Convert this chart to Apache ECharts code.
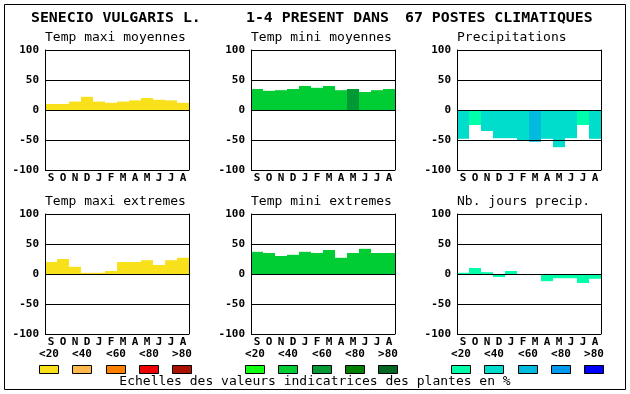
<!DOCTYPE html>
<html><head><meta charset="utf-8">
<script src="https://cdn.jsdelivr.net/npm/echarts@6/dist/echarts.min.js"></script>
<style>html,body{margin:0;padding:0;background:#fff}#c{width:630px;height:394px}</style>
</head><body><div id="c"></div>
<script>
// ---- data ----
const months = ['S','O','N','D','J','F','M','A','M','J','J','A'];
const yTicks = [-100, -50, 0, 50, 100];
const tempMaxiMoy = [10,10,14,22,14,12,14,16,20,17,16,12];
const tempMaxiMoyClass = [0,0,0,0,0,0,0,0,0,0,0,0];
const tempMiniMoy = [35,32,33,35,40,37,40,33,35,30,33,35];
const tempMiniMoyClass = [1,1,1,1,1,1,1,1,2,1,1,1];
const precip = [-48,-25,-35,-47,-47,-50,-53,-48,-62,-47,-25,-48];
const precipClass = [1,0,1,1,1,1,2,1,1,1,0,1];
const tempMaxiExt = [20,25,12,2,2,5,20,20,23,15,23,27];
const tempMaxiExtClass = [0,0,0,0,0,0,0,0,0,0,0,0];
const tempMiniExt = [37,35,30,32,37,35,40,27,35,42,35,35];
const tempMiniExtClass = [1,1,1,1,1,1,1,1,1,1,1,1];
const nbJours = [2,10,3,-5,5,0,0,-12,-7,-7,-15,-8];
const nbJoursClass = [0,0,0,0,0,0,0,0,0,0,0,0];
const scaleLabels = ['<20','<40','<60','<80','>80'];
const yellowScale = ['#F8E01A','#FFB84D','#FF7F00','#EE0000','#AA1100'];
const greenScale = ['#11FF11','#00CC33','#009933','#007F00','#006622'];
const blueScale = ['#00FFAA','#00DDCC','#00BBDD','#0099EE','#0000FF'];
const titleParts = ['SENECIO VULGARIS L.', '1-4 PRESENT DANS', '67 POSTES CLIMATIQUES'];
const caption = 'Echelles des valeurs indicatrices des plantes en %';

const panels = [
  {name:'Temp maxi moyennes', values:tempMaxiMoy, cls:tempMaxiMoyClass, pal:yellowScale, left:45, top:50},
  {name:'Temp mini moyennes', values:tempMiniMoy, cls:tempMiniMoyClass, pal:greenScale, left:251, top:50},
  {name:'Precipitations', values:precip, cls:precipClass, pal:blueScale, left:457, top:50},
  {name:'Temp maxi extremes', values:tempMaxiExt, cls:tempMaxiExtClass, pal:yellowScale, left:45, top:214},
  {name:'Temp mini extremes', values:tempMiniExt, cls:tempMiniExtClass, pal:greenScale, left:251, top:214},
  {name:'Nb. jours precip.', values:nbJours, cls:nbJoursClass, pal:blueScale, left:457, top:214}
];

const MONO = "'DejaVu Sans Mono', 'Liberation Mono', monospace";
const grid = [], xAxis = [], yAxis = [], series = [], graphic = [];

graphic.push({type:'rect', shape:{x:4.5, y:4.5, width:621, height:385},
  style:{fill:null, stroke:'#000', lineWidth:1}, z:10});

const titleX = [31, 246, 405];
titleParts.forEach((t, i) => graphic.push({type:'text', x:titleX[i], y:18, scaleX:1.06,
  style:{text:t, font:"bold 14px " + MONO, fill:'#000', textVerticalAlign:'middle', textAlign:'left'}}));

const tickFont = {color:'#000', fontFamily:MONO, fontWeight:'bold', fontSize:11};

panels.forEach((p, i) => {
  grid.push({left:p.left, top:p.top, width:144, height:120, containLabel:false});
  xAxis.push({type:'category', gridIndex:i, data:months, position:'bottom',
    axisLine:{show:false}, axisTick:{show:false}, splitLine:{show:false},
    axisLabel:Object.assign({margin:3, interval:0}, tickFont)});
  yAxis.push({type:'value', gridIndex:i, min:yTicks[0], max:yTicks[yTicks.length-1], interval:50, z:5,
    axisLine:{show:true, onZero:false, lineStyle:{color:'#000', width:1}}, axisTick:{show:false},
    splitLine:{show:true, lineStyle:{color:'#000', width:1}},
    axisLabel:Object.assign({margin:6, showMinLabel:true, showMaxLabel:true}, tickFont)});
  yAxis.push({type:'value', gridIndex:i, position:'right', min:yTicks[0], max:yTicks[yTicks.length-1], interval:50, z:5,
    axisLine:{show:true, onZero:false, lineStyle:{color:'#000', width:1}}, axisTick:{show:false},
    splitLine:{show:false}, axisLabel:{show:false}});
  series.push({type:'bar', xAxisIndex:i, yAxisIndex:2*i, barWidth:'100%', barCategoryGap:'0%',
    silent:true, animation:false,
    data:p.values.map((v, k) => ({value:v, itemStyle:{color:p.pal[p.cls[k]]}}))});
  graphic.push({type:'text', x:p.left, y:p.top - 12,
    style:{text:p.name, font:"13px " + MONO, fill:'#000', textVerticalAlign:'middle', textAlign:'left'}});
});

// legend scales under the bottom row
const legendOffsets = [-6, 27, 61, 94, 127];
[[45, yellowScale], [251, greenScale], [457, blueScale]].forEach(([lx, pal]) => {
  pal.forEach((c, k) => {
    const bx = lx + legendOffsets[k];
    graphic.push({type:'rect', shape:{x:bx + 0.5, y:365.5, width:19, height:8},
      style:{fill:c, stroke:'#000', lineWidth:1}});
    graphic.push({type:'text', x:bx + 10, y:354,
      style:{text:scaleLabels[k], font:"bold 11px " + MONO, fill:'#000', textAlign:'center', textVerticalAlign:'middle'}});
  });
});
graphic.push({type:'text', x:315, y:382,
  style:{text:caption, font:"13px " + MONO, fill:'#000', textAlign:'center', textVerticalAlign:'middle'}});

const chart = echarts.init(document.getElementById('c'), null, {renderer:'canvas'});
chart.setOption({animation:false, backgroundColor:'#fff', grid, xAxis, yAxis, series, graphic});
</script></body></html>
